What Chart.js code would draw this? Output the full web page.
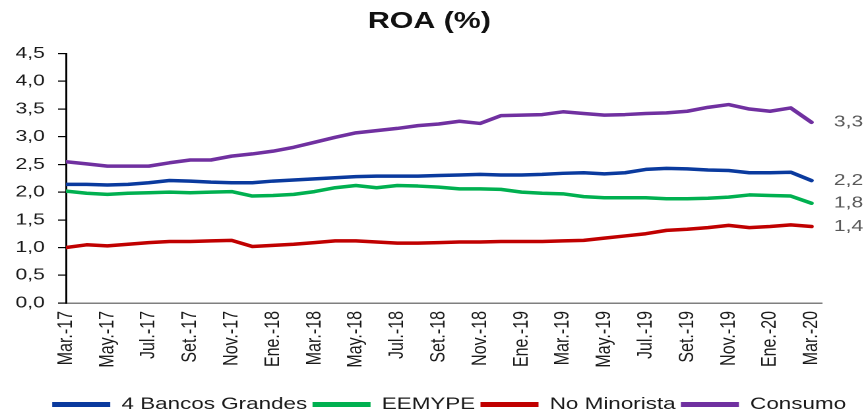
<!DOCTYPE html>
<html>
<head>
<meta charset="utf-8">
<title>ROA (%)</title>
<script src="https://cdn.jsdelivr.net/npm/chart.js@4/dist/chart.umd.min.js"></script>
<style>
    html, body { margin: 0; padding: 0; background: #fff; overflow: hidden; }
    /* the source picture is stretched sideways, so draw narrower and stretch */
    #wrap { width: 655px; height: 415px; overflow: hidden; transform: scaleX(1.3191); transform-origin: 0 0; }
</style>
</head>
<body>
<div id="wrap"><canvas id="roaChart" width="655" height="415"></canvas></div>
<script>
// Months, Mar-17 .. Mar-20
const months = [
    'Mar.-17', 'Abr.-17', 'May.-17', 'Jun.-17', 'Jul.-17', 'Ago.-17', 'Set.-17', 'Oct.-17', 'Nov.-17', 'Dic.-17',
    'Ene.-18', 'Feb.-18', 'Mar.-18', 'Abr.-18', 'May.-18', 'Jun.-18', 'Jul.-18', 'Ago.-18', 'Set.-18', 'Oct.-18', 'Nov.-18', 'Dic.-18',
    'Ene.-19', 'Feb.-19', 'Mar.-19', 'Abr.-19', 'May.-19', 'Jun.-19', 'Jul.-19', 'Ago.-19', 'Set.-19', 'Oct.-19', 'Nov.-19', 'Dic.-19',
    'Ene.-20', 'Feb.-20', 'Mar.-20'
];

// ROA series (%)
const bancosGrandes = [2.14, 2.14, 2.13, 2.14, 2.17, 2.21, 2.20, 2.18, 2.17, 2.17, 2.20, 2.22, 2.24, 2.26, 2.28, 2.29, 2.29, 2.29, 2.30, 2.31, 2.32, 2.31, 2.31, 2.32, 2.34, 2.35, 2.33, 2.35, 2.41, 2.43, 2.42, 2.40, 2.39, 2.35, 2.35, 2.36, 2.21];
const eemype = [2.02, 1.98, 1.96, 1.98, 1.99, 2.00, 1.99, 2.00, 2.01, 1.93, 1.94, 1.96, 2.01, 2.08, 2.12, 2.08, 2.12, 2.11, 2.09, 2.06, 2.06, 2.05, 2.00, 1.98, 1.97, 1.92, 1.90, 1.90, 1.90, 1.88, 1.88, 1.89, 1.91, 1.95, 1.94, 1.93, 1.80];
const noMinorista = [1.00, 1.05, 1.03, 1.06, 1.09, 1.11, 1.11, 1.12, 1.13, 1.02, 1.04, 1.06, 1.09, 1.12, 1.12, 1.10, 1.08, 1.08, 1.09, 1.10, 1.10, 1.11, 1.11, 1.11, 1.12, 1.13, 1.17, 1.21, 1.25, 1.31, 1.33, 1.36, 1.40, 1.36, 1.38, 1.41, 1.38];
const consumo = [2.55, 2.51, 2.47, 2.47, 2.47, 2.53, 2.58, 2.58, 2.65, 2.69, 2.74, 2.81, 2.90, 2.99, 3.07, 3.11, 3.15, 3.20, 3.23, 3.28, 3.24, 3.38, 3.39, 3.40, 3.45, 3.42, 3.39, 3.40, 3.42, 3.43, 3.46, 3.53, 3.58, 3.50, 3.46, 3.52, 3.26];

// y axis ticks
const yTicks = [0, 0.5, 1, 1.5, 2, 2.5, 3, 3.5, 4, 4.5];

const FONT = '"Liberation Sans", Arial, sans-serif';
const fmt = v => v.toFixed(1).replace('.', ',');
const toPoints = arr => arr.map((v, i) => ({ x: i, y: v }));

function line(label, values, color) {
    return {
        label: label,
        data: toPoints(values),
        borderColor: color,
        backgroundColor: color,
        borderWidth: 3.5,
        pointRadius: 0,
        tension: 0,
        borderJoinStyle: 'round',
        borderCapStyle: 'round'
    };
}

// value labels at the right end of each line
const endLabels = {
    id: 'endLabels',
    afterDatasetsDraw(chart) {
        const ctx = chart.ctx;
        ctx.save();
        ctx.font = '16px ' + FONT;
        ctx.fillStyle = '#595959';
        ctx.textBaseline = 'middle';
        ctx.textAlign = 'left';
        chart.data.datasets.forEach((ds, i) => {
            const pts = chart.getDatasetMeta(i).data;
            const last = pts[pts.length - 1];
            ctx.fillText(fmt(ds.data[ds.data.length - 1].y), last.x + 17, last.y);
        });
        ctx.restore();
    }
};

// nudge title and legend a bit to the right, like the original
const nudge = {
    id: 'nudge',
    afterLayout(chart) {
        if (chart.titleBlock) {
            chart.titleBlock.left += 14;
            chart.titleBlock.right += 14;
        }
        if (chart.legend) {
            chart.legend.left += 29;
            chart.legend.right += 29;
        }
    }
};

const ctx = document.getElementById('roaChart').getContext('2d');

new Chart(ctx, {
    type: 'line',
    data: {
        datasets: [
            line('4 Bancos Grandes', bancosGrandes, '#0a3a9e'),
            line('EEMYPE', eemype, '#00b050'),
            line('No Minorista', noMinorista, '#c00000'),
            line('Consumo', consumo, '#7030a0')
        ]
    },
    options: {
        responsive: false,
        animation: false,
        devicePixelRatio: 2,
        layout: { padding: { left: 0, right: 32, top: 0, bottom: -8 } },
        plugins: {
            title: {
                display: true,
                text: 'ROA (%)',
                color: '#111',
                font: { family: FONT, size: 23, weight: 'bold' },
                padding: { top: 8, bottom: 18 }
            },
            legend: {
                position: 'bottom',
                labels: {
                    color: '#1a1a1a',
                    font: { family: FONT, size: 17 },
                    boxWidth: 44,
                    boxHeight: 5,
                    padding: 4,
                    generateLabels: chart =>
                        Chart.defaults.plugins.legend.labels.generateLabels(chart)
                            .map(l => Object.assign(l, { lineWidth: 0 }))
                }
            },
            tooltip: { enabled: false }
        },
        scales: {
            x: {
                type: 'linear',
                min: 0,
                max: 36.5,
                afterBuildTicks: scale => {
                    scale.ticks = months.map((m, i) => ({ value: i })).filter(t => t.value % 2 === 0);
                },
                afterFit: scale => { scale.height = 89; },
                ticks: {
                    autoSkip: false,
                    minRotation: 90,
                    maxRotation: 90,
                    padding: 8,
                    color: '#1a1a1a',
                    font: { family: FONT, size: 16 },
                    callback: v => months[v]
                },
                grid: { display: false, drawTicks: false },
                border: { display: true, color: '#7f7f7f', width: 1.5 }
            },
            y: {
                min: 0,
                max: 4.5,
                afterBuildTicks: scale => {
                    scale.ticks = yTicks.map(v => ({ value: v }));
                },
                afterFit: scale => { scale.width = 50; },
                ticks: {
                    color: '#1a1a1a',
                    padding: 10,
                    font: { family: FONT, size: 16 },
                    callback: v => fmt(v)
                },
                grid: { drawOnChartArea: false, tickLength: 6, color: '#000', lineWidth: 1.2 },
                border: { color: '#000', width: 1.5 }
            }
        }
    },
    plugins: [endLabels, nudge]
});
</script>
</body>
</html>
